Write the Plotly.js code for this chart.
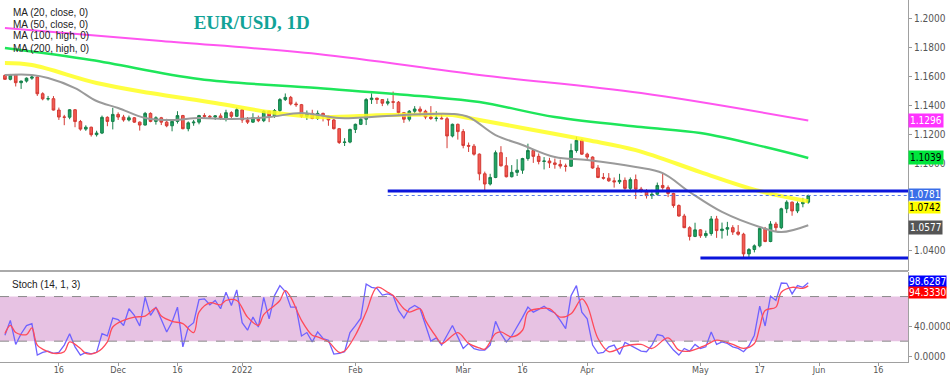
<!DOCTYPE html>
<html><head><meta charset="utf-8">
<script src="https://cdn.plot.ly/plotly-3.0.1.min.js"></script>
<style>html,body{margin:0;padding:0;background:#fff}#chart{width:950px;height:377px}</style>
</head><body><div id="chart"></div>
<script>
// ---------- DATA ----------
const dates = [
'2021-11-02','2021-11-03','2021-11-04','2021-11-05','2021-11-08','2021-11-09','2021-11-10','2021-11-11','2021-11-12','2021-11-15',
'2021-11-16','2021-11-17','2021-11-18','2021-11-19','2021-11-22','2021-11-23','2021-11-24','2021-11-25','2021-11-26','2021-11-29',
'2021-11-30','2021-12-01','2021-12-02','2021-12-03','2021-12-06','2021-12-07','2021-12-08','2021-12-09','2021-12-10','2021-12-13',
'2021-12-14','2021-12-15','2021-12-16','2021-12-17','2021-12-20','2021-12-21','2021-12-22','2021-12-23','2021-12-24','2021-12-27',
'2021-12-28','2021-12-29','2021-12-30','2021-12-31','2022-01-03','2022-01-04','2022-01-05','2022-01-06','2022-01-07','2022-01-10',
'2022-01-11','2022-01-12','2022-01-13','2022-01-14','2022-01-17','2022-01-18','2022-01-19','2022-01-20','2022-01-21','2022-01-24',
'2022-01-25','2022-01-26','2022-01-27','2022-01-28','2022-01-31','2022-02-01','2022-02-02','2022-02-03','2022-02-04','2022-02-07',
'2022-02-08','2022-02-09','2022-02-10','2022-02-11','2022-02-14','2022-02-15','2022-02-16','2022-02-17','2022-02-18','2022-02-21',
'2022-02-22','2022-02-23','2022-02-24','2022-02-25','2022-02-28','2022-03-01','2022-03-02','2022-03-03','2022-03-04','2022-03-07',
'2022-03-08','2022-03-09','2022-03-10','2022-03-11','2022-03-14','2022-03-15','2022-03-16','2022-03-17','2022-03-18','2022-03-21',
'2022-03-22','2022-03-23','2022-03-24','2022-03-25','2022-03-28','2022-03-29','2022-03-30','2022-03-31','2022-04-01','2022-04-04',
'2022-04-05','2022-04-06','2022-04-07','2022-04-08','2022-04-11','2022-04-12','2022-04-13','2022-04-14','2022-04-15','2022-04-18',
'2022-04-19','2022-04-20','2022-04-21','2022-04-22','2022-04-25','2022-04-26','2022-04-27','2022-04-28','2022-04-29','2022-05-02',
'2022-05-03','2022-05-04','2022-05-05','2022-05-06','2022-05-09','2022-05-10','2022-05-11','2022-05-12','2022-05-13','2022-05-16',
'2022-05-17','2022-05-18','2022-05-19','2022-05-20','2022-05-23','2022-05-24','2022-05-25','2022-05-26','2022-05-27','2022-05-30'];

const open = [
1.1606,1.1579,1.1610,1.1556,1.1567,1.1587,1.1595,1.1480,1.1445,1.1446,
1.1368,1.1320,1.1319,1.1370,1.1289,1.1237,1.1250,1.1199,1.1210,1.1318,
1.1290,1.1338,1.1320,1.1300,1.1315,1.1285,1.1265,1.1345,1.1290,1.1315,
1.1285,1.1260,1.1290,1.1330,1.1240,1.1280,1.1285,1.1330,1.1325,1.1320,
1.1328,1.1310,1.1350,1.1325,1.1370,1.1300,1.1285,1.1315,1.1295,1.1360,
1.1325,1.1365,1.1440,1.1455,1.1410,1.1405,1.1325,1.1345,1.1310,1.1345,
1.1325,1.1300,1.1240,1.1145,1.1148,1.1235,1.1270,1.1305,1.1440,1.1450,
1.1440,1.1415,1.1425,1.1422,1.1350,1.1305,1.1360,1.1375,1.1360,1.1320,
1.1310,1.1312,1.1308,1.1190,1.1270,1.1220,1.1125,1.1120,1.1065,1.0930,
1.0860,1.0905,1.1075,1.0985,1.0910,1.0940,1.0955,1.1035,1.1090,1.1050,
1.1015,1.1018,1.1005,1.0995,1.0983,1.0982,1.1090,1.1160,1.1065,1.1045,
1.0970,1.0905,1.0900,1.0882,1.0875,1.0885,1.0830,1.0890,1.0825,1.0810,
1.0780,1.0790,1.0850,1.0835,1.0795,1.0712,1.0640,1.0560,1.0500,1.0545,
1.0505,1.0520,1.0620,1.0540,1.0550,1.0560,1.0530,1.0515,1.0380,1.0410,
1.0435,1.0555,1.0465,1.0585,1.0560,1.0690,1.0735,1.0675,1.0725,1.0735];
const high = [
1.1613,1.1616,1.1616,1.1570,1.1592,1.1608,1.1600,1.1490,1.1465,1.1464,
1.1385,1.1335,1.1375,1.1375,1.1300,1.1263,1.1254,1.1226,1.1330,1.1325,
1.1383,1.1352,1.1335,1.1330,1.1320,1.1290,1.1355,1.1352,1.1325,1.1321,
1.1308,1.1290,1.1360,1.1335,1.1290,1.1300,1.1335,1.1346,1.1334,1.1333,
1.1345,1.1370,1.1360,1.1386,1.1376,1.1320,1.1346,1.1330,1.1368,1.1362,
1.1375,1.1450,1.1482,1.1465,1.1425,1.1410,1.1365,1.1370,1.1365,1.1350,
1.1330,1.1310,1.1245,1.1175,1.1240,1.1275,1.1315,1.1450,1.1483,1.1452,
1.1442,1.1448,1.1495,1.1430,1.1355,1.1368,1.1395,1.1393,1.1370,1.1395,
1.1360,1.1345,1.1320,1.1275,1.1275,1.1237,1.1145,1.1135,1.1070,1.0945,
1.0930,1.1090,1.1120,1.1045,1.0990,1.1030,1.1040,1.1137,1.1100,1.1070,
1.1045,1.1040,1.1035,1.1027,1.1000,1.1137,1.1185,1.1170,1.1075,1.1050,
1.0990,1.0935,1.0935,1.0905,1.0930,1.0905,1.0905,1.0925,1.0840,1.0825,
1.0820,1.0870,1.0936,1.0850,1.0800,1.0720,1.0655,1.0570,1.0594,1.0550,
1.0540,1.0640,1.0641,1.0595,1.0600,1.0577,1.0578,1.0525,1.0420,1.0445,
1.0565,1.0565,1.0605,1.0600,1.0697,1.0748,1.0740,1.0740,1.0765,1.0787];
const low = [
1.1577,1.1572,1.1530,1.1513,1.1557,1.1576,1.1465,1.1435,1.1433,1.1365,
1.1300,1.1264,1.1305,1.1250,1.1226,1.1225,1.1186,1.1186,1.1203,1.1257,
1.1235,1.1300,1.1288,1.1290,1.1280,1.1227,1.1262,1.1284,1.1268,1.1265,
1.1250,1.1222,1.1275,1.1236,1.1222,1.1260,1.1270,1.1310,1.1315,1.1300,
1.1300,1.1290,1.1300,1.1320,1.1280,1.1272,1.1280,1.1285,1.1285,1.1285,
1.1315,1.1355,1.1430,1.1400,1.1390,1.1315,1.1300,1.1305,1.1300,1.1290,
1.1260,1.1235,1.1135,1.1121,1.1140,1.1210,1.1265,1.1265,1.1410,1.1410,
1.1395,1.1400,1.1375,1.1330,1.1280,1.1290,1.1335,1.1330,1.1305,1.1300,
1.1290,1.1305,1.1106,1.1180,1.1165,1.1105,1.1080,1.1055,1.0885,1.0806,
1.0850,1.0900,1.0980,1.0905,1.0905,1.0915,1.0930,1.1020,1.1005,1.0995,
1.0960,1.0970,1.0965,1.0966,1.0945,1.0980,1.1075,1.1060,1.1030,1.0965,
1.0900,1.0890,1.0875,1.0835,1.0860,1.0820,1.0810,1.0757,1.0800,1.0760,
1.0757,1.0780,1.0820,1.0770,1.0697,1.0636,1.0557,1.0472,1.0495,1.0490,
1.0490,1.0505,1.0490,1.0485,1.0505,1.0510,1.0505,1.0355,1.0349,1.0390,
1.0425,1.0460,1.0460,1.0533,1.0550,1.0660,1.0642,1.0660,1.0700,1.0725];
const close = [
1.1579,1.1610,1.1556,1.1567,1.1587,1.1595,1.1480,1.1445,1.1446,1.1368,
1.1320,1.1319,1.1370,1.1289,1.1237,1.1250,1.1199,1.1210,1.1318,1.1290,
1.1338,1.1320,1.1300,1.1315,1.1285,1.1265,1.1345,1.1290,1.1315,1.1285,
1.1260,1.1290,1.1330,1.1240,1.1280,1.1285,1.1330,1.1325,1.1320,1.1328,
1.1310,1.1350,1.1325,1.1370,1.1300,1.1285,1.1315,1.1295,1.1360,1.1325,
1.1365,1.1440,1.1455,1.1410,1.1405,1.1325,1.1345,1.1310,1.1345,1.1325,
1.1300,1.1240,1.1145,1.1148,1.1235,1.1270,1.1305,1.1440,1.1450,1.1440,
1.1415,1.1425,1.1422,1.1350,1.1305,1.1360,1.1375,1.1360,1.1320,1.1310,
1.1312,1.1308,1.1190,1.1270,1.1220,1.1125,1.1120,1.1065,1.0930,1.0860,
1.0905,1.1075,1.0985,1.0910,1.0940,1.0955,1.1035,1.1090,1.1050,1.1015,
1.1018,1.1005,1.0995,1.0983,1.0982,1.1090,1.1160,1.1065,1.1045,1.0970,
1.0905,1.0900,1.0882,1.0875,1.0885,1.0830,1.0890,1.0825,1.0810,1.0780,
1.0790,1.0850,1.0835,1.0795,1.0712,1.0640,1.0560,1.0500,1.0545,1.0505,
1.0520,1.0620,1.0540,1.0550,1.0560,1.0530,1.0515,1.0380,1.0410,1.0435,
1.0555,1.0465,1.0585,1.0560,1.0690,1.0735,1.0675,1.0725,1.0735,1.0781];

// Moving averages at sample dates
const ma20Dates = ['2021-11-02','2021-11-09','2021-11-12','2021-11-19','2021-11-25','2021-12-01','2021-12-08','2021-12-15','2021-12-22','2021-12-30','2022-01-10','2022-01-18','2022-01-27','2022-02-04','2022-02-14','2022-02-25','2022-03-02','2022-03-09','2022-03-16','2022-03-24','2022-04-01','2022-04-14','2022-04-21','2022-04-28','2022-05-06','2022-05-17','2022-05-23','2022-05-30'];
const ma20 = [1.1609,1.1609,1.1588,1.1519,1.1430,1.1382,1.1313,1.1299,1.1313,1.1306,1.1320,1.1348,1.1313,1.1320,1.1334,1.1341,1.1320,1.1196,1.1128,1.1045,1.1025,1.0977,1.0935,1.0805,1.0668,1.0565,1.0530,1.0577];
const ma50Dates = ['2021-11-02','2021-11-09','2021-11-25','2021-12-09','2021-12-27','2022-01-10','2022-01-21','2022-02-09','2022-02-25','2022-03-02','2022-03-16','2022-04-01','2022-04-14','2022-05-02','2022-05-13','2022-05-23','2022-05-30'];
const ma50 = [1.1691,1.1677,1.1554,1.1485,1.1416,1.1354,1.1320,1.1334,1.1334,1.1313,1.1245,1.1162,1.1093,1.0942,1.0832,1.0777,1.0742];
const ma100Dates = ['2021-11-02','2021-11-24','2021-12-22','2022-01-21','2022-02-17','2022-03-04','2022-03-24','2022-04-15','2022-05-02','2022-05-18','2022-05-30'];
const ma100 = [1.1794,1.1712,1.1581,1.1519,1.1464,1.1423,1.1320,1.1251,1.1210,1.1114,1.1039];
const ma200Dates = ['2021-11-02','2021-12-13','2022-01-21','2022-03-04','2022-04-15','2022-05-30'];
const ma200 = [1.1931,1.1842,1.1753,1.1609,1.1485,1.1296];

// Horizontal levels
const levelNames = ['resistance','support'];
const levelValues = [1.0812, 1.0352];
const levelStart = ['2022-02-09','2022-05-02'];
const lastPrice = 1.0781;
const axisEnd = '2022-06-23 12:00';

// Right-side value labels
const priceLabelVals = [1.1296, 1.1039, 1.0781, 1.0742, 1.0577];
const stochLabelVals = [98.6287, 94.3330];

// Stochastic %K (14,1) per day
const stochK = [
28,48,15.6,30,41,43.6,1.3,5,6.7,3.6,
5,14.7,30,12.4,1.3,5,3,5,30,27,
51,49,41,63.6,54.7,40.4,79,54.7,65.8,50,
32.4,45.8,65.8,12.4,39,44.9,76,76.9,68.9,74.7,
63.6,85.8,68,88.9,44.9,34.7,52.4,39,79,50,
81.3,94.7,86.7,65.8,65.8,27,31.6,19,32.4,23.6,
21.3,2.7,3.6,5.8,31.6,41,51,96.9,92.4,91,
82,83.6,81.3,61.3,51,63.6,68,63.6,41,20,
24.4,14.7,28,41,25.8,10.2,17,10,8,8,
14.7,46.7,30.2,19,27,39,52,65.8,59,62.7,
67,61.3,58,48,37,81,94.7,59,50,14.7,
3.6,5,12.4,14.7,2.2,18.2,14.7,11.1,6.7,5.8,
14.7,28.9,27.1,16.9,8,1.3,10.2,6.7,15.6,10.2,
12.4,32.4,15.6,19.1,16.9,12.4,10.2,5.8,13.8,28,
67,40.4,80.4,74.7,98.2,97.8,83.6,94.7,92.4,98.63];
// Stochastic %D (3) read at sample dates
const stochDDates = ['2021-11-02','2021-11-03','2021-11-04','2021-11-08','2021-11-09','2021-11-10','2021-11-12','2021-11-15','2021-11-17','2021-11-18','2021-11-22','2021-11-23','2021-11-25','2021-11-29','2021-11-30','2021-12-02','2021-12-06','2021-12-08','2021-12-10','2021-12-13','2021-12-15','2021-12-17','2021-12-21','2021-12-22','2021-12-24','2021-12-28','2021-12-29','2021-12-31','2022-01-04','2022-01-06','2022-01-07','2022-01-11','2022-01-12','2022-01-13','2022-01-14','2022-01-18','2022-01-20','2022-01-21','2022-01-25','2022-01-27','2022-01-28','2022-02-01','2022-02-03','2022-02-07','2022-02-09','2022-02-10','2022-02-14','2022-02-15','2022-02-17','2022-02-18','2022-02-22','2022-02-23','2022-02-28','2022-03-02','2022-03-04','2022-03-07','2022-03-09','2022-03-10','2022-03-14','2022-03-16','2022-03-17','2022-03-21','2022-03-23','2022-03-25','2022-03-29','2022-03-31','2022-04-01','2022-04-05','2022-04-07','2022-04-11','2022-04-12','2022-04-15','2022-04-19','2022-04-22','2022-04-26','2022-04-28','2022-05-03','2022-05-05','2022-05-10','2022-05-12','2022-05-16','2022-05-17','2022-05-18','2022-05-20','2022-05-23','2022-05-25','2022-05-27','2022-05-30'];
const stochD = [30.2,41.3,31.6,28.9,37.8,14.7,5.8,3.6,5.8,19.1,10.2,3.6,4.9,19.1,39.1,48,52.4,53.8,64.4,53.8,46.7,43.6,31.6,59.1,71.6,68.9,74.7,74.7,52.4,41.3,55.6,68,74.7,88,79.1,48,28,25.8,19.1,4.9,6.7,28,59.1,92.4,85.8,81.3,63.6,59.1,63.6,48,25.8,16.9,31.6,17,11,9.3,30.2,32.4,25.8,34.7,59.1,63.6,63.6,52.4,56.9,76.9,68,23.6,5.8,10.2,13.3,15.6,10.2,24.4,8,6.7,14.7,21.3,15.6,10.2,16.9,39.1,61.3,65.8,85.8,92.4,91.1,94.33];
const stochBand = [20, 80];

// Axis ticks (labels hidden behind the value boxes are left out)
const xTickVals = ['2021-11-16','2021-12-01','2021-12-16','2022-01-03','2022-02-01','2022-03-01','2022-03-16','2022-04-01','2022-05-02','2022-05-17','2022-06-01','2022-06-16'];
const xTickText = ['16','Dec','16','2022','Feb','Mar','16','Apr','May','17','Jun','16'];
const priceTicks = [1.04,1.10,1.12,1.14,1.16,1.18,1.20];
const stochTicks = [0,40];
const legendText = ['MA (20, close, 0)','MA (50, close, 0)','MA (100, high, 0)','MA (200, high, 0)'];

// ---------- STYLE ----------
const narrow = '"Liberation Sans Narrow","Arial Narrow","DejaVu Sans Condensed",sans-serif';
const sans = '"Liberation Sans",Arial,sans-serif';
const priceLabelStyle = [
  {bg:'#ff33ff', fg:'#ffffff', shift:0, pad:1},
  {bg:'#00e63c', fg:'#000000', shift:0, pad:1},
  {bg:'#3a6ee8', fg:'#ffffff', shift:1, pad:0},
  {bg:'#ffff00', fg:'#000000', shift:-6, pad:0},
  {bg:'#555555', fg:'#ffffff', shift:-2, pad:1}];
const stochLabelStyle = [{bg:'#0000ff',fg:'#fff',shift:1},{bg:'#ff0000',fg:'#fff',shift:-7}];

const traces = [];
traces.push({type:'scatter', mode:'lines', x:ma200Dates, y:ma200, xaxis:'x', yaxis:'y',
  line:{color:'#ff55f0', width:2, shape:'spline'}, hoverinfo:'skip'});
traces.push({type:'scatter', mode:'lines', x:ma100Dates, y:ma100, xaxis:'x', yaxis:'y',
  line:{color:'#1ee65a', width:2.5, shape:'spline'}, hoverinfo:'skip'});
traces.push({type:'scatter', mode:'lines', x:ma50Dates, y:ma50, xaxis:'x', yaxis:'y',
  line:{color:'rgba(255,255,30,0.85)', width:4, shape:'spline'}, hoverinfo:'skip'});
traces.push({type:'scatter', mode:'lines', x:ma20Dates, y:ma20, xaxis:'x', yaxis:'y',
  line:{color:'#9a9a9a', width:2, shape:'spline'}, hoverinfo:'skip'});
levelValues.forEach((v,i)=>{
  traces.push({type:'scatter', mode:'lines', x:[levelStart[i], axisEnd], y:[v,v], xaxis:'x', yaxis:'y',
    line:{color:'#0a14dc', width:3}, hoverinfo:'skip', name:levelNames[i]});
});
traces.push({type:'scatter', mode:'lines', x:[levelStart[0], axisEnd], y:[lastPrice,lastPrice], xaxis:'x', yaxis:'y',
  line:{color:'#5a7be6', width:1, dash:'dot'}, hoverinfo:'skip'});
traces.push({type:'candlestick', x:dates, open:open, high:high, low:low, close:close, xaxis:'x', yaxis:'y',
  increasing:{line:{color:'#16804a', width:1}, fillcolor:'#1fa463'},
  decreasing:{line:{color:'#d43a34', width:1}, fillcolor:'#f25a52'},
  whiskerwidth:0, hoverinfo:'skip'});
traces.push({type:'scatter', mode:'lines', x:dates, y:stochK, xaxis:'x', yaxis:'y2',
  line:{color:'#6f62ff', width:1.3}, hoverinfo:'skip'});
traces.push({type:'scatter', mode:'lines', x:stochDDates, y:stochD, xaxis:'x', yaxis:'y2',
  line:{color:'#ff4a5a', width:1.3, shape:'spline'}, hoverinfo:'skip'});

const plotH = 362, splitPx = 271;
const priceBottom = (plotH - splitPx)/plotH;
const stochTop = (plotH - splitPx - 1)/plotH;

const annotations = [];
legendText.forEach((t,i)=>annotations.push({xref:'paper', yref:'paper', x:0.012, y:1 - (12 + i*12)/plotH,
  xanchor:'left', yanchor:'middle', text:t, showarrow:false, font:{family:sans, size:10, color:'#222'}}));
annotations.push({xref:'paper', yref:'paper', x:0.011, y:1 - 284/plotH, xanchor:'left', yanchor:'middle',
  text:'Stoch (14, 1, 3)', showarrow:false, font:{family:sans, size:10, color:'#222'}});
priceLabelVals.forEach((v,i)=>annotations.push({xref:'paper', yref:'y', x:1, y:v, xanchor:'left', yanchor:'middle',
  yshift:priceLabelStyle[i].shift, text:v.toFixed(4), showarrow:false, bgcolor:priceLabelStyle[i].bg, borderpad:priceLabelStyle[i].pad,
  font:{family:narrow, size:10, color:priceLabelStyle[i].fg}}));
stochLabelVals.forEach((v,i)=>annotations.push({xref:'paper', yref:'y2', x:1, y:v, xanchor:'left', yanchor:'middle',
  yshift:stochLabelStyle[i].shift, text:v.toFixed(4), showarrow:false, bgcolor:stochLabelStyle[i].bg, borderpad:0,
  font:{family:narrow, size:10, color:stochLabelStyle[i].fg}}));

const shapes = [
  {type:'rect', xref:'paper', yref:'y2', x0:0, x1:1, y0:stochBand[0], y1:stochBand[1], fillcolor:'#e7c2e3', line:{width:0}, layer:'below'},
  {type:'line', xref:'paper', yref:'y2', x0:0, x1:1, y0:stochBand[0], y1:stochBand[0], line:{color:'#8a8a8a', width:1, dash:'dash'}},
  {type:'line', xref:'paper', yref:'y2', x0:0, x1:1, y0:stochBand[1], y1:stochBand[1], line:{color:'#8a8a8a', width:1, dash:'dash'}},
  {type:'line', xref:'paper', yref:'paper', x0:0, x1:1, y0:priceBottom, y1:priceBottom, line:{color:'#aaaaaa', width:2}}
];

const layout = {
  width:950, height:377, paper_bgcolor:'#fff', plot_bgcolor:'#fff',
  margin:{l:0, r:42, t:0, b:15}, showlegend:false, hovermode:false,
  title:{text:'<b>EUR/USD, 1D</b>', xref:'container', yref:'container', x:0.265, y:1-22/377, xanchor:'center', yanchor:'middle',
    font:{family:'"Liberation Serif","Times New Roman",serif', size:19, color:'#12a397'}},
  xaxis:{type:'date', anchor:'y2', range:['2021-11-01 02:00', axisEnd],
    rangebreaks:[{bounds:['sat','mon']}], rangeslider:{visible:false},
    tickmode:'array', tickvals:xTickVals, ticktext:xTickText, ticks:'outside', ticklen:3, tickcolor:'#999',
    ticklabelstandoff:-4,
    showline:true, linecolor:'#a0a0a0', linewidth:1, showgrid:false, zeroline:false,
    tickfont:{family:narrow, size:9, color:'#555'}},
  yaxis:{domain:[priceBottom,1], range:[1.02624,1.2124], side:'right', anchor:'x',
    tickmode:'array', tickvals:priceTicks, ticktext:priceTicks.map(v=>v.toFixed(4)),
    ticks:'outside', ticklen:3, tickcolor:'#999', showline:true, linecolor:'#a0a0a0', linewidth:1,
    showgrid:false, zeroline:false, tickfont:{family:narrow, size:10, color:'#555'}},
  yaxis2:{domain:[0,stochTop], range:[-8,113], side:'right', anchor:'x',
    tickmode:'array', tickvals:stochTicks, ticktext:stochTicks.map(v=>v.toFixed(4)),
    ticks:'outside', ticklen:3, tickcolor:'#999', showline:true, linecolor:'#a0a0a0', linewidth:1,
    showgrid:false, zeroline:false, tickfont:{family:narrow, size:10, color:'#555'}},
  annotations:annotations, shapes:shapes
};
Plotly.newPlot('chart', traces, layout, {displayModeBar:false, staticPlot:true});
</script></body></html>
